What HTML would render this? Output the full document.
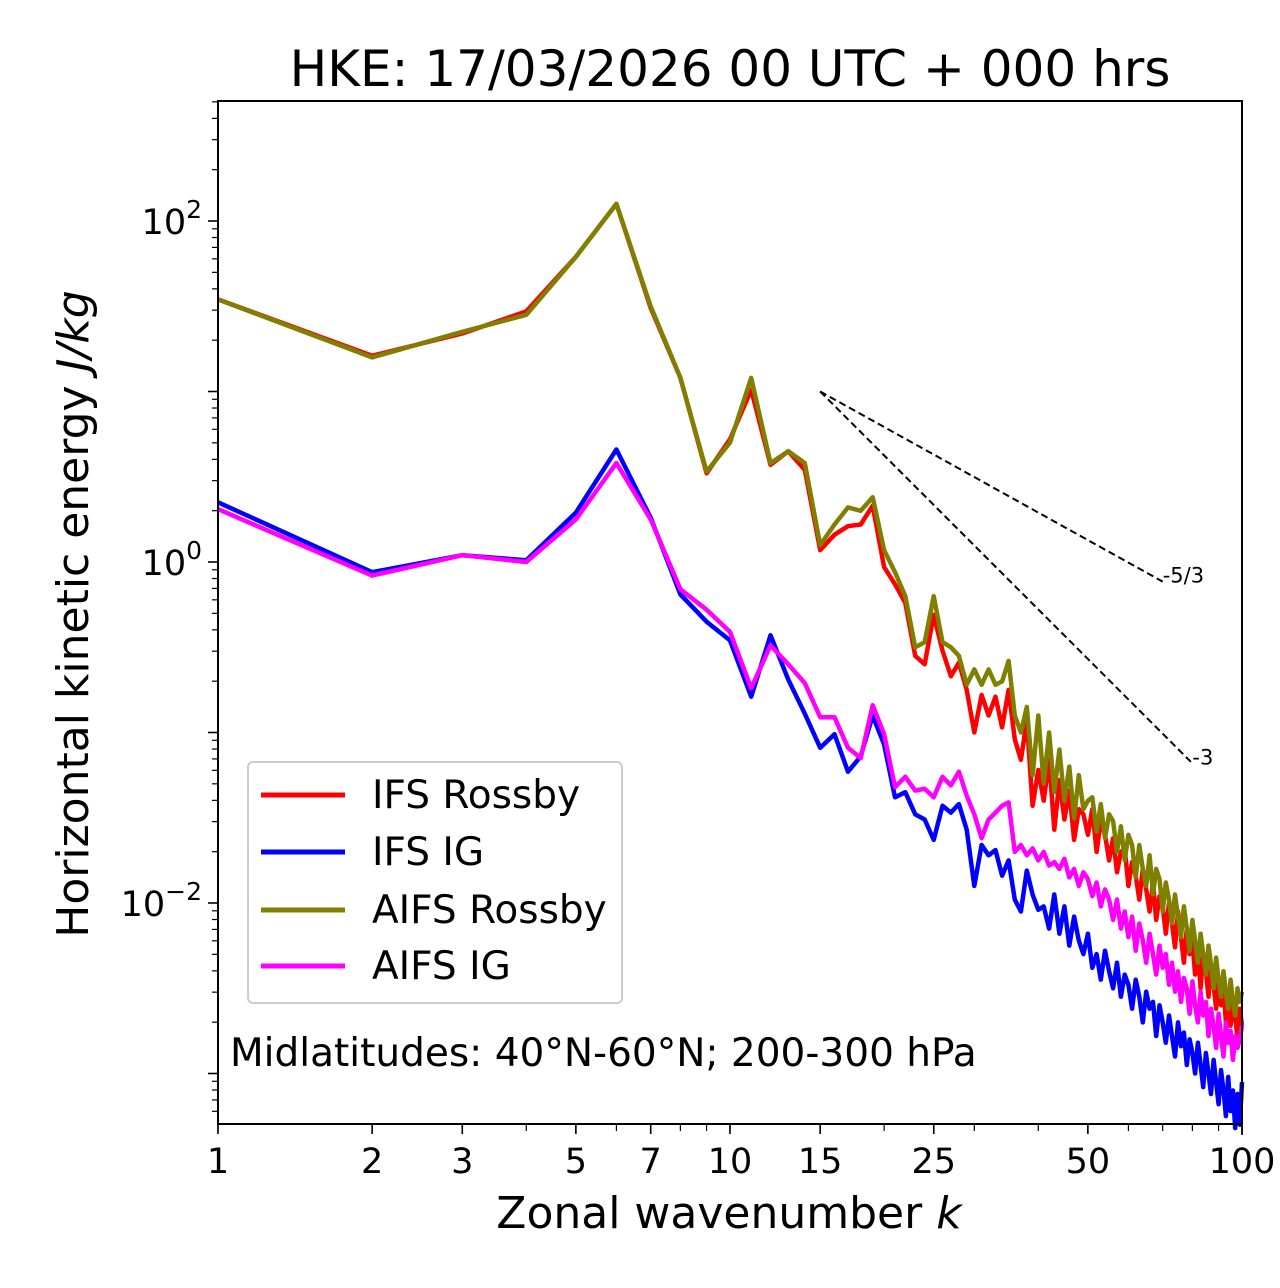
<!DOCTYPE html>
<html><head><meta charset="utf-8"><style>
html,body{margin:0;padding:0;background:#fff}
svg{display:block;font-family:"DejaVu Sans","Liberation Sans",sans-serif}
</style></head><body>
<svg id="chart" width="1280" height="1288" viewBox="0 0 1280 1288">
<rect width="1280" height="1288" fill="#fff"/>
<text x="730" y="86" font-size="50" text-anchor="middle">HKE: 17/03/2026 00 UTC + 000 hrs</text>
<g id="axes"></g>
<g id="series"></g>
<rect x="218" y="101" width="1024" height="1023" fill="none" stroke="#000" stroke-width="2"/>
<text transform="translate(88,614) rotate(-90)" font-size="44" text-anchor="middle">Horizontal kinetic energy <tspan font-style="italic">J/kg</tspan></text>
<text x="729" y="1228" font-size="44" text-anchor="middle">Zonal wavenumber <tspan font-style="italic">k</tspan></text>
<g>
<rect x="248" y="762" width="374" height="241" rx="5" fill="#fff" fill-opacity="0.8" stroke="#ccc" stroke-width="2"/>
<line x1="261" y1="795" x2="345" y2="795" stroke="#ff0000" stroke-width="5"/>
<text x="372" y="808" font-size="39">IFS Rossby</text>
<line x1="261" y1="852" x2="345" y2="852" stroke="#0000ff" stroke-width="5"/>
<text x="372" y="865" font-size="39">IFS IG</text>
<line x1="261" y1="910" x2="345" y2="910" stroke="#808000" stroke-width="5"/>
<text x="372" y="923" font-size="39">AIFS Rossby</text>
<line x1="261" y1="966" x2="345" y2="966" stroke="#ff00ff" stroke-width="5"/>
<text x="372" y="979" font-size="39">AIFS IG</text>
</g>
<text x="230" y="1066" font-size="39">Midlatitudes: 40°N-60°N; 200-300 hPa</text>
</svg>
<script>
// log10 of energy (J/kg), k = index+1
const ifsRossbyLog=[1.54,1.21,1.34,1.47,1.79,2.10,1.49,1.08,0.52,0.72,1.01,0.57,0.65,0.54,0.07,0.16,0.21,0.22,0.33,-0.03,-0.13,-0.24,-0.55,-0.60,-0.31,-0.52,-0.67,-0.59,-0.75,-1.00,-0.78,-0.90,-0.79,-0.97,-0.75,-1.04,-1.16,-0.93,-1.43,-1.22,-1.40,-1.16,-1.57,-1.28,-1.51,-1.34,-1.63,-1.45,-1.48,-1.60,
-1.45,-1.70,-1.52,-1.60,-1.75,-1.62,-1.82,-1.70,-1.68,-1.90,-1.76,-1.84,-1.98,-1.80,-1.92,-2.05,-1.88,-2.10,-1.96,-2.02,-2.18,-2.00,-2.12,-2.26,-2.05,-2.20,-2.35,-2.15,-2.30,-2.22,-2.42,-2.28,-2.50,-2.30,-2.40,-2.55,-2.38,-2.48,-2.62,-2.45,-2.60,-2.50,-2.70,-2.55,-2.72,-2.60,-2.66,-2.80,-2.62,-2.72];
const aifsRossbyLog=[1.54,1.20,1.35,1.45,1.79,2.10,1.50,1.08,0.53,0.70,1.08,0.58,0.65,0.58,0.10,0.22,0.32,0.30,0.38,0.07,-0.06,-0.20,-0.50,-0.47,-0.20,-0.47,-0.50,-0.55,-0.72,-0.63,-0.72,-0.63,-0.72,-0.70,-0.58,-0.90,-1.00,-0.85,-1.25,-0.90,-1.30,-1.00,-1.35,-1.10,-1.40,-1.20,-1.50,-1.25,-1.45,-1.40,
-1.38,-1.58,-1.42,-1.62,-1.48,-1.52,-1.70,-1.55,-1.75,-1.60,-1.66,-1.85,-1.66,-1.80,-1.90,-1.72,-1.95,-1.80,-1.86,-2.05,-1.88,-1.98,-2.12,-1.95,-2.08,-2.20,-2.02,-2.15,-2.28,-2.10,-2.22,-2.35,-2.18,-2.30,-2.42,-2.25,-2.36,-2.50,-2.32,-2.45,-2.55,-2.40,-2.52,-2.62,-2.45,-2.58,-2.66,-2.50,-2.58,-2.52];
const ifsIgLog=[0.35,-0.06,0.04,0.01,0.29,0.66,0.26,-0.19,-0.35,-0.46,-0.79,-0.43,-0.69,-0.89,-1.09,-1.01,-1.23,-1.14,-0.90,-1.07,-1.38,-1.35,-1.48,-1.51,-1.63,-1.43,-1.47,-1.42,-1.57,-1.90,-1.66,-1.72,-1.69,-1.84,-1.75,-1.98,-2.05,-1.81,-1.95,-2.04,
-2.02,-2.15,-1.95,-2.18,-2.02,-2.25,-2.08,-2.22,-2.30,-2.18,-2.38,-2.30,-2.45,-2.28,-2.40,-2.50,-2.35,-2.55,-2.42,-2.48,-2.62,-2.45,-2.55,-2.70,-2.52,-2.62,-2.58,-2.78,-2.60,-2.70,-2.82,-2.66,-2.78,-2.90,-2.70,-2.84,-2.76,-2.95,-2.80,-2.88,-3.00,-2.82,-2.95,-3.08,-2.88,-3.00,-3.12,-2.92,-3.05,-3.18,-2.98,-3.10,-3.25,-3.02,-3.22,-3.10,-3.32,-3.12,-3.30,-3.05];
const aifsIgLog=[0.31,-0.08,0.04,0.00,0.25,0.58,0.25,-0.16,-0.28,-0.41,-0.74,-0.49,-0.60,-0.71,-0.91,-0.91,-1.09,-1.15,-0.84,-1.01,-1.32,-1.26,-1.34,-1.33,-1.38,-1.26,-1.31,-1.23,-1.37,-1.48,-1.62,-1.51,-1.47,-1.43,-1.41,
-1.70,-1.66,-1.72,-1.68,-1.75,-1.70,-1.78,-1.76,-1.80,-1.74,-1.85,-1.80,-1.90,-1.82,-1.86,-1.96,-1.88,-2.02,-1.92,-1.98,-2.10,-1.98,-2.15,-2.05,-2.20,-2.08,-2.28,-2.12,-2.22,-2.35,-2.18,-2.30,-2.42,-2.25,-2.38,-2.30,-2.48,-2.35,-2.52,-2.40,-2.58,-2.44,-2.50,-2.65,-2.46,-2.60,-2.70,-2.52,-2.66,-2.58,-2.78,-2.62,-2.72,-2.85,-2.65,-2.78,-2.90,-2.70,-2.82,-2.75,-2.92,-2.78,-2.85,-2.80,-2.72];
const xTickValues=[1,2,3,5,7,10,15,25,50,100];
const yTickExps=[2,0,-2];
const refStartK=15, refStartE=10;
const refSlopes=[-5/3,-3];
const refEndK=[70,80];
const refLabels=["-5/3","-3"];

const NS="http://www.w3.org/2000/svg";
const X0=218,X1=1242,YREF=221,DEC=170.5;
const xs=k=>X0+Math.log10(k)*(X1-X0)/2;
const ysL=L=>YREF+(2-L)*DEC;
const ys=e=>ysL(Math.log10(e));
function mk(tag,attrs,parent){const el=document.createElementNS(NS,tag);for(const a in attrs)el.setAttribute(a,attrs[a]);parent.appendChild(el);return el;}
const ax=document.getElementById('axes');
for(let d=1;d<=10;d*=10)for(let m=1;m<=9;m++){const k=m*d;if(k>100)break;
 const t=mk('line',{x1:xs(k),x2:xs(k),y1:1124,y2:1131,stroke:'#000','stroke-width':1.2},ax);
 
 }
mk('line',{x1:xs(100),x2:xs(100),y1:1124,y2:1135,stroke:'#000','stroke-width':1.6},ax);
xTickValues.forEach(v=>{
 const t=mk('line',{x1:xs(v),x2:xs(v),y1:1124,y2:1134,stroke:'#000','stroke-width':1.6},ax);
 
 
 const tx=mk('text',{x:xs(v),y:1173,'font-size':35,'text-anchor':'middle'},ax);
 tx.textContent=v;
 
 
});
for(let e=-4;e<=2;e++)for(let m=1;m<=9;m++){const v=m*Math.pow(10,e);const y=ys(v);if(y<101||y>1124)continue;
 const t=mk('line',{x1:m===1?208:212,x2:218,y1:y,y2:y,stroke:'#000','stroke-width':m===1?1.6:1.2},ax);
 
 }
yTickExps.forEach(e=>{
 const tx=mk('text',{x:202,y:ysL(e)+13,'font-size':35,'text-anchor':'end'},ax);
 tx.innerHTML='10<tspan dy="-16" font-size="25">'+(e<0?'\u2212'+(-e):e)+'</tspan>';
 
 
});
const sg=document.getElementById('series');
function line(arr,color,name){
 const pts=arr.map((L,i)=>xs(i+1).toFixed(1)+','+ysL(L).toFixed(1)).join(' ');
 const p=mk('polyline',{points:pts,fill:'none',stroke:color,'stroke-width':4.5,'stroke-linejoin':'round'},sg);
 
 
}
line(ifsRossbyLog,'#ff0000','ifs-rossby-line');
line(ifsIgLog,'#0000ff','ifs-ig-line');
line(aifsRossbyLog,'#808000','aifs-rossby-line');
line(aifsIgLog,'#ff00ff','aifs-ig-line');
refSlopes.forEach((s,i)=>{
 const k2=refEndK[i];const e2=refStartE*Math.pow(k2/refStartK,s);
 const l=mk('line',{x1:xs(refStartK),y1:ys(refStartE),x2:xs(k2),y2:ys(e2),stroke:'#000','stroke-width':2,'stroke-dasharray':'7,4'},sg);
 
 
 const t=mk('text',{x:xs(k2),y:ys(e2)+1,'font-size':21},sg);
 t.textContent=refLabels[i];
 
 
});
</script>
</body></html>
